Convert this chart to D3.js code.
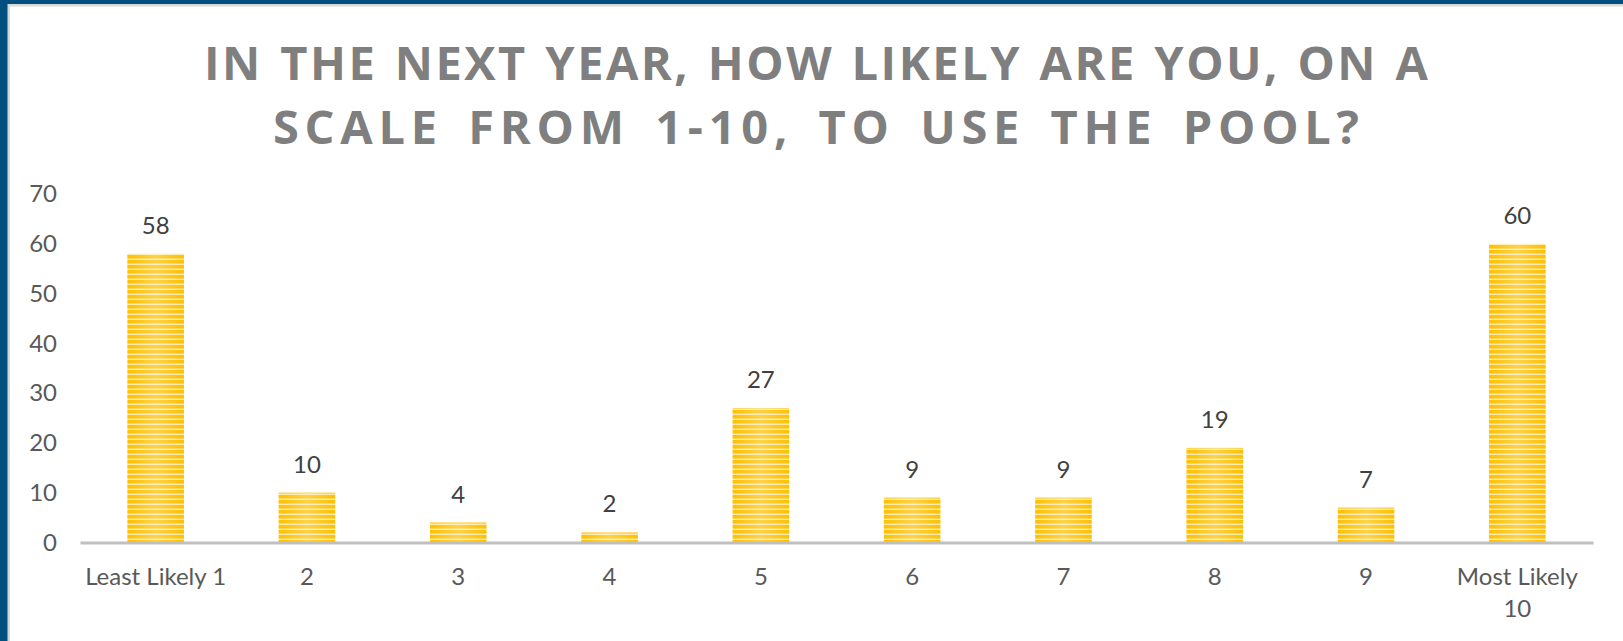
<!DOCTYPE html>
<html>
<head>
<meta charset="utf-8">
<script src="https://cdn.jsdelivr.net/npm/d3@7"></script>
<style>
  html, body { margin: 0; padding: 0; background: #ffffff; }
  svg { display: block; }
</style>
</head>
<body>
<svg id="chart" width="1623" height="641"></svg>
<script>
// Survey responses: likelihood of using the pool (1 = least, 10 = most)
const categories = ["1", "2", "3", "4", "5", "6", "7", "8", "9", "10"];
const values = [58, 10, 4, 2, 27, 9, 9, 19, 7, 60];
const tickLabels = [
  ["Least Likely 1"], ["2"], ["3"], ["4"], ["5"],
  ["6"], ["7"], ["8"], ["9"], ["Most Likely", "10"]
];
const yTicks = [0, 10, 20, 30, 40, 50, 60, 70];
const titleLines = [
  "IN THE NEXT YEAR, HOW LIKELY ARE YOU, ON A",
  "SCALE FROM 1-10, TO USE THE POOL?"
];

const W = 1623, H = 641;
const svg = d3.select("#chart");
const FONT = "Lato, 'Open Sans', sans-serif";
const TITLE_FONT = "'Open Sans', Lato, sans-serif";

// Frame: dark blue edge on left and top with a thin grey inner line
svg.append("rect").attr("x", 0).attr("y", 0).attr("width", W).attr("height", H).attr("fill", "#ffffff");
svg.append("rect").attr("x", 0).attr("y", 0).attr("width", W).attr("height", 6.5).attr("fill", "#d9d9d9");
svg.append("rect").attr("x", 0).attr("y", 0).attr("width", 10).attr("height", H).attr("fill", "#d9d9d9");
svg.append("rect").attr("x", 0).attr("y", 0).attr("width", W).attr("height", 4).attr("fill", "#02507f");
svg.append("rect").attr("x", 0).attr("y", 0).attr("width", 7.5).attr("height", H).attr("fill", "#02507f");

// Bar fill: striped yellow with a paler centre
const defs = svg.append("defs");
const stripes = defs.append("pattern")
  .attr("id", "stripes")
  .attr("patternUnits", "userSpaceOnUse")
  .attr("width", 8).attr("height", 5);
stripes.append("rect").attr("width", 8).attr("height", 5).attr("fill", "#ffc000");
stripes.append("rect").attr("y", 3).attr("width", 8).attr("height", 1).attr("fill", "#ffd24d");
stripes.append("rect").attr("y", 4).attr("width", 8).attr("height", 1).attr("fill", "#ffeaa6");

const sheen = defs.append("linearGradient")
  .attr("id", "sheen")
  .attr("x1", "0").attr("x2", "1").attr("y1", "0").attr("y2", "0");
sheen.append("stop").attr("offset", "0%").attr("stop-color", "#ffffff").attr("stop-opacity", 0.0);
sheen.append("stop").attr("offset", "50%").attr("stop-color", "#ffffff").attr("stop-opacity", 0.28);
sheen.append("stop").attr("offset", "100%").attr("stop-color", "#ffffff").attr("stop-opacity", 0.0);

// Scales
const x = d3.scaleBand()
  .domain(categories)
  .range([80, 1593])
  .paddingInner(0.626)
  .paddingOuter(0.313);

const y = d3.scaleLinear()
  .domain([0, 70])
  .range([542.4, 194.2]);

// Title: each line is spaced out to its target width
const title = svg.append("g").attr("class", "title");
const titleWidths = [1224, 1086];
titleLines.forEach((line, i) => {
  const t = title.append("text")
    .attr("x", 816)
    .attr("y", 79.5 + i * 64)
    .attr("text-anchor", "middle")
    .style("font-family", TITLE_FONT)
    .style("font-weight", 700)
    .style("font-size", "47px")
    .style("fill", "#7f7f7f")
    .text(line);
  const natural = t.node().getComputedTextLength();
  const extra = Math.max(0, titleWidths[i] - natural);
  const gaps = line.length - 1;
  const words = line.split(" ").length - 1;
  // most of the extra room goes between letters, some between words
  const ls = extra * 0.8 / gaps;
  const ws = extra * 0.2 / words;
  t.style("letter-spacing", ls + "px").style("word-spacing", ws + "px")
   .attr("dx", ls / 2);
});

// Y axis (labels only)
const yAxis = svg.append("g")
  .attr("transform", "translate(80,0)")
  .call(d3.axisLeft(y).tickValues(yTicks).tickSize(0).tickPadding(23));
yAxis.select(".domain").remove();
yAxis.selectAll("text")
  .style("font-family", FONT)
  .style("font-size", "24px")
  .style("fill", "#595959");

// Bars
const bars = svg.append("g").attr("class", "bars");
bars.selectAll("rect.bar")
  .data(values)
  .join("rect")
  .attr("class", "bar")
  .attr("x", (d, i) => x(categories[i]))
  .attr("y", d => y(d))
  .attr("width", x.bandwidth())
  .attr("height", d => y(0) - y(d))
  .attr("fill", "url(#stripes)");
bars.selectAll("rect.sheen")
  .data(values)
  .join("rect")
  .attr("class", "sheen")
  .attr("x", (d, i) => x(categories[i]))
  .attr("y", d => y(d))
  .attr("width", x.bandwidth())
  .attr("height", d => y(0) - y(d))
  .attr("fill", "url(#sheen)");

// Value labels
svg.append("g").selectAll("text")
  .data(values)
  .join("text")
  .attr("x", (d, i) => x(categories[i]) + x.bandwidth() / 2)
  .attr("y", d => y(d) - 20)
  .attr("text-anchor", "middle")
  .style("font-family", FONT)
  .style("font-size", "24px")
  .style("fill", "#404040")
  .text(d => d);

// X axis
const xAxis = svg.append("g")
  .attr("transform", `translate(0,${y(0)})`)
  .call(d3.axisBottom(x).tickSize(0).tickSizeOuter(0).tickPadding(26));
xAxis.select(".domain")
  .attr("stroke", "#bfbfbf")
  .attr("stroke-width", 3);
xAxis.selectAll(".tick text")
  .style("font-family", FONT)
  .style("font-size", "24px")
  .style("fill", "#595959")
  .each(function(d, i) {
    const t = d3.select(this);
    t.text(null);
    tickLabels[i].forEach((line, j) => {
      t.append("tspan")
        .attr("x", 0)
        .attr("dy", j === 0 ? "0.71em" : "32px")
        .text(line);
    });
  });
</script>
</body>
</html>
